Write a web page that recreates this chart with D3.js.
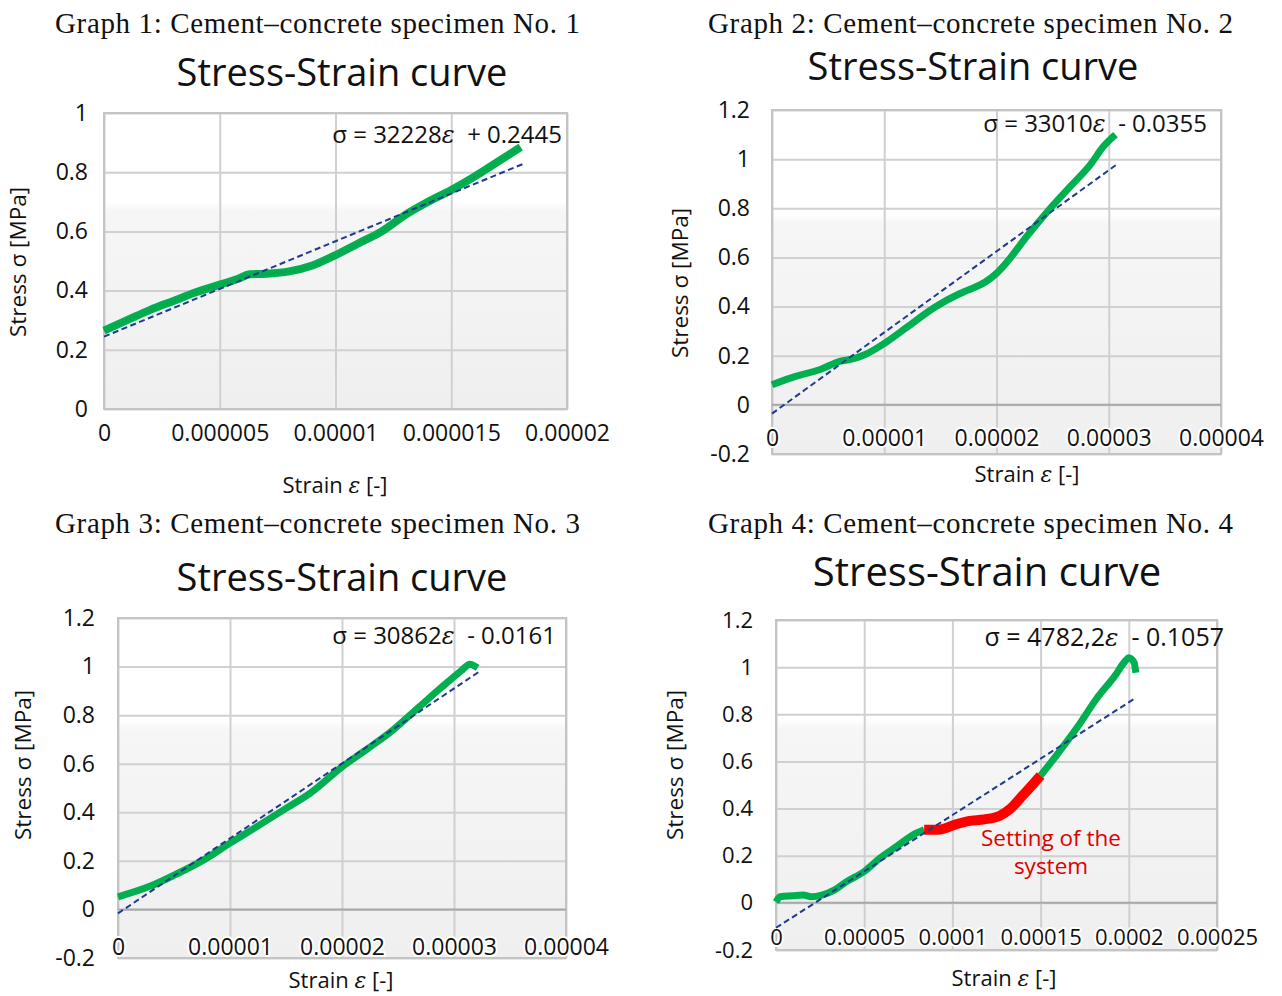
<!DOCTYPE html>
<html>
<head>
<meta charset="utf-8">
<script src="https://cdn.jsdelivr.net/npm/d3@7"></script>
<style>
  html, body { margin: 0; padding: 0; background: #ffffff; }
  svg { display: block; }
</style>
</head>
<body>
<svg id="chart" width="1282" height="996"></svg>
<script>
// ---------------- DATA ----------------
const headers = [
  "Graph 1: Cement\u2013concrete specimen No. 1",
  "Graph 2: Cement\u2013concrete specimen No. 2",
  "Graph 3: Cement\u2013concrete specimen No. 3",
  "Graph 4: Cement\u2013concrete specimen No. 4"
];
const chartTitle = "Stress-Strain curve";
const yAxisTitle = "Stress \u03c3 [MPa]";

// Panel 1
const p1Strain = [0, 1e-6, 2e-6, 3e-6, 4e-6, 5e-6, 5.8e-6, 6.3e-6, 7e-6, 8e-6, 9e-6, 1e-5, 1.1e-5, 1.2e-5, 1.3e-5, 1.4e-5, 1.5e-5, 1.6e-5, 1.7e-5, 1.8e-5];
const p1Stress = [0.265, 0.30, 0.335, 0.365, 0.395, 0.42, 0.44, 0.455, 0.457, 0.465, 0.485, 0.52, 0.56, 0.60, 0.655, 0.70, 0.74, 0.785, 0.835, 0.885];
// Panel 2
const p2Strain = [0, 2.1e-6, 4.3e-6, 6.1e-6, 7.0e-6, 8.3e-6, 1.01e-5, 1.2e-5, 1.45e-5, 1.67e-5, 1.74e-5, 1.9e-5, 2.0e-5, 2.1e-5, 2.26e-5, 2.47e-5, 2.66e-5, 2.84e-5, 2.95e-5, 3.06e-5];
const p2Stress = [0.082, 0.116, 0.144, 0.178, 0.185, 0.205, 0.253, 0.315, 0.397, 0.452, 0.466, 0.50, 0.535, 0.585, 0.68, 0.795, 0.89, 0.98, 1.05, 1.10];
// Panel 3
const p3Strain = [0, 2.9e-6, 5.1e-6, 7.7e-6, 1e-5, 1.24e-5, 1.5e-5, 1.72e-5, 2e-5, 2.23e-5, 2.45e-5, 2.67e-5, 2.89e-5, 3.07e-5, 3.14e-5, 3.21e-5];
const p3Stress = [0.052, 0.096, 0.143, 0.205, 0.273, 0.341, 0.416, 0.48, 0.587, 0.662, 0.737, 0.826, 0.915, 0.985, 1.01, 0.995];
// Panel 4 (three segments: initial green, red "setting", final green)
const p4StrainA = [0, 2.4e-6, 9.5e-6, 1.54e-5, 2.0e-5, 2.6e-5, 3.3e-5, 4.0e-5, 5e-5, 5.9e-5, 6.9e-5, 7.8e-5, 8.4e-5];
const p4StressA = [0.004, 0.026, 0.03, 0.033, 0.026, 0.033, 0.054, 0.09, 0.133, 0.19, 0.243, 0.29, 0.31];
const p4StrainB = [8.4e-5, 9.2e-5, 1.02e-4, 1.09e-4, 1.18e-4, 1.27e-4, 1.33e-4, 1.40e-4, 1.46e-4, 1.5e-4];
const p4StressB = [0.31, 0.31, 0.333, 0.347, 0.354, 0.37, 0.40, 0.457, 0.506, 0.54];
const p4StrainC = [1.5e-4, 1.59e-4, 1.71e-4, 1.82e-4, 1.92e-4, 1.98e-4, 2.0e-4, 2.03e-4, 2.04e-4];
const p4StressC = [0.54, 0.626, 0.747, 0.869, 0.962, 1.026, 1.04, 1.02, 0.976];

// Linear trend lines (slope, intercept, strain range)
const trendSlopes = [32228, 33010, 30862, 4782.2];
const trendIntercepts = [0.2445, -0.0355, -0.0161, -0.1057];
const trendEnds = [1.81e-5, 3.08e-5, 3.22e-5, 2.03e-4];
const equationLabels = [
  ["\u03c3 = 32228", " + 0.2445"],
  ["\u03c3 = 33010", " - 0.0355"],
  ["\u03c3 = 30862", " - 0.0161"],
  ["\u03c3 = 4782,2", " - 0.1057"]
];

// Axis ticks
const p1XTicks = [0, 0.000005, 0.00001, 0.000015, 0.00002];
const p1XLabels = ["0", "0.000005", "0.00001", "0.000015", "0.00002"];
const p1YTicks = [0, 0.2, 0.4, 0.6, 0.8, 1];
const p1YLabels = ["0", "0.2", "0.4", "0.6", "0.8", "1"];
const p23XTicks = [0, 0.00001, 0.00002, 0.00003, 0.00004];
const p23XLabels = ["0", "0.00001", "0.00002", "0.00003", "0.00004"];
const p4XTicks = [0, 0.00005, 0.0001, 0.00015, 0.0002, 0.00025];
const p4XLabels = ["0", "0.00005", "0.0001", "0.00015", "0.0002", "0.00025"];
const p234YTicks = [-0.2, 0, 0.2, 0.4, 0.6, 0.8, 1, 1.2];
const p234YLabels = ["-0.2", "0", "0.2", "0.4", "0.6", "0.8", "1", "1.2"];
const annotationLines = ["Setting of the", "system"];

// ---------------- DRAWING ----------------
const svg = d3.select("#chart");
const SANS = "'Open Sans', 'Noto Sans', sans-serif";
const SERIF = "'Liberation Serif', 'DejaVu Serif', serif";
const GREEN = "#00b050";
const RED = "#ff0000";
const NAVY = "#1f3b8f";

const defs = svg.append("defs");
const grad = defs.append("linearGradient").attr("id", "bg").attr("x1", 0).attr("x2", 0).attr("y1", 0).attr("y2", 1);
grad.append("stop").attr("offset", "0%").attr("stop-color", "#ffffff");
grad.append("stop").attr("offset", "30%").attr("stop-color", "#ffffff");
grad.append("stop").attr("offset", "33%").attr("stop-color", "#f6f6f6");
grad.append("stop").attr("offset", "100%").attr("stop-color", "#efefef");

const panels = [
  { header: headers[0], hx: 55, hy: 23, tx: 342, ty: 73, tfs: 38, fs: 23, efs: 24,
    xr: [104, 567], yr: [409, 113], xd: [0, 0.00002], yd: [0, 1],
    xTicks: p1XTicks, xLabels: p1XLabels, yTicks: p1YTicks, yLabels: p1YLabels,
    xLabelInside: false, series: [{x: p1Strain, y: p1Stress, c: GREEN, w: 8, dotted: true}],
    eqX: 562, eqY: 135, ytx: 18, yty: 262, xtx: 335, xty: 485, ylabX: 88, idx: 0 },
  { header: headers[1], hx: 708, hy: 23, tx: 973, ty: 67, tfs: 38, fs: 23, efs: 24,
    xr: [772, 1221], yr: [454, 110], xd: [0, 0.00004], yd: [-0.2, 1.2],
    xTicks: p23XTicks, xLabels: p23XLabels, yTicks: p234YTicks, yLabels: p234YLabels,
    xLabelInside: true, xLabelY: 438, series: [{x: p2Strain, y: p2Stress, c: GREEN, w: 7}],
    eqX: 1207, eqY: 124, ytx: 680, yty: 283, xtx: 1027, xty: 474, ylabX: 750, idx: 1 },
  { header: headers[2], hx: 55, hy: 523, tx: 342, ty: 578, tfs: 38, fs: 23, efs: 24,
    xr: [118, 566], yr: [958, 618], xd: [0, 0.00004], yd: [-0.2, 1.2],
    xTicks: p23XTicks, xLabels: p23XLabels, yTicks: p234YTicks, yLabels: p234YLabels,
    xLabelInside: true, xLabelY: 947, series: [{x: p3Strain, y: p3Stress, c: GREEN, w: 7}],
    eqX: 556, eqY: 636, ytx: 23, yty: 765, xtx: 341, xty: 980, ylabX: 95, idx: 2 },
  { header: headers[3], hx: 708, hy: 523, tx: 987, ty: 572, tfs: 40, fs: 22, efs: 25,
    xr: [776, 1217], yr: [950, 620], xd: [0, 0.00025], yd: [-0.2, 1.2],
    xTicks: p4XTicks, xLabels: p4XLabels, yTicks: p234YTicks, yLabels: p234YLabels,
    xLabelInside: true, xLabelY: 937,
    series: [{x: p4StrainA, y: p4StressA, c: GREEN, w: 7},
             {x: p4StrainB, y: p4StressB, c: RED, w: 10},
             {x: p4StrainC, y: p4StressC, c: GREEN, w: 7}],
    eqX: 1224, eqY: 637, ytx: 675, yty: 765, xtx: 1004, xty: 978, ylabX: 753, idx: 3,
    annotation: true }
];

panels.forEach(p => {
  const g = svg.append("g");
  const x = d3.scaleLinear().domain(p.xd).range(p.xr);
  const y = d3.scaleLinear().domain(p.yd).range(p.yr);
  const [x0, x1] = p.xr;
  const [yb, yt] = p.yr;

  // header (serif caption)
  g.append("text").attr("x", p.hx).attr("y", p.hy).attr("dy", "0.35em")
    .attr("font-family", SERIF).attr("font-size", 29).attr("fill", "#111")
    .attr("textLength", 525).attr("lengthAdjust", "spacing")
    .text(p.header);
  // chart title
  g.append("text").attr("x", p.tx).attr("y", p.ty).attr("dy", "0.35em")
    .attr("text-anchor", "middle").attr("font-family", SANS).attr("font-size", p.tfs)
    .attr("fill", "#111").text(chartTitle);

  // plot background
  g.append("rect").attr("x", x0).attr("y", yt).attr("width", x1 - x0).attr("height", yb - yt)
    .attr("fill", "url(#bg)");

  // gridlines
  g.append("g").attr("transform", `translate(0,${yb})`)
    .call(d3.axisBottom(x).tickValues(p.xTicks).tickSize(-(yb - yt)).tickFormat(""))
    .call(s => s.select(".domain").remove())
    .call(s => s.selectAll("line").attr("stroke", "#d0d0d0").attr("stroke-width", 2));
  g.append("g").attr("transform", `translate(${x0},0)`)
    .call(d3.axisLeft(y).tickValues(p.yTicks).tickSize(-(x1 - x0)).tickFormat(""))
    .call(s => s.select(".domain").remove())
    .call(s => s.selectAll("line").attr("stroke", "#d0d0d0").attr("stroke-width", 2));

  // frame
  g.append("rect").attr("x", x0).attr("y", yt).attr("width", x1 - x0).attr("height", yb - yt)
    .attr("fill", "none").attr("stroke", "#c4c4c4").attr("stroke-width", 2);
  // zero axis line
  if (p.yd[0] < 0) {
    g.append("line").attr("x1", x0).attr("x2", x1).attr("y1", y(0)).attr("y2", y(0))
      .attr("stroke", "#a8a8a8").attr("stroke-width", 2);
  }

  // y tick labels
  const yAx = g.append("g").attr("transform", `translate(${p.ylabX},0)`)
    .call(d3.axisLeft(y).tickValues(p.yTicks).tickSize(0).tickPadding(0)
      .tickFormat((d, i) => p.yLabels[i]));
  yAx.select(".domain").remove();
  yAx.selectAll("text").attr("font-family", SANS).attr("font-size", p.fs).attr("fill", "#111");

  // x tick labels
  const xBase = p.xLabelInside ? p.xLabelY : yb + 24;
  const xAx = g.append("g").attr("transform", `translate(0,${xBase})`)
    .call(d3.axisBottom(x).tickValues(p.xTicks).tickSize(0).tickPadding(0)
      .tickFormat((d, i) => p.xLabels[i]));
  xAx.select(".domain").remove();
  xAx.selectAll("text").attr("dy", "0.35em").attr("font-family", SANS).attr("font-size", p.fs)
    .attr("fill", "#111");
  if (p.xLabelInside) {
    xAx.selectAll("text").attr("stroke", "#ffffff").attr("stroke-width", 4)
      .attr("paint-order", "stroke").attr("stroke-linejoin", "round");
  }

  // series
  const line = d3.line().x(d => x(d[0])).y(d => y(d[1])).curve(d3.curveMonotoneX);
  p.series.forEach(s => {
    const pts = s.x.map((v, i) => [v, s.y[i]]);
    g.append("path").attr("d", line(pts)).attr("fill", "none")
      .attr("stroke", s.c).attr("stroke-width", s.w)
      .attr("stroke-linecap", "butt").attr("stroke-linejoin", "round");
    if (s.dotted) {
      g.append("path").attr("d", line(pts)).attr("fill", "none")
        .attr("stroke", "#18984a").attr("stroke-width", 2)
        .attr("stroke-dasharray", "1.5,2.5");
    }
  });

  // trend line
  const k = p.idx;
  const tPts = [0, trendEnds[k]].map(e => [e, trendSlopes[k] * e + trendIntercepts[k]]);
  g.append("path").attr("d", d3.line().x(d => x(d[0])).y(d => y(d[1]))(tPts))
    .attr("fill", "none").attr("stroke", NAVY).attr("stroke-width", 2)
    .attr("stroke-dasharray", "6,3.5");

  // equation
  const eq = g.append("text").attr("x", p.eqX).attr("y", p.eqY).attr("dy", "0.35em")
    .attr("text-anchor", "end").attr("font-family", SANS).attr("font-size", p.efs).attr("fill", "#111");
  eq.append("tspan").text(equationLabels[k][0]);
  eq.append("tspan").attr("font-style", "italic").attr("font-family", "'DejaVu Serif', serif").text("\u03b5");
  eq.append("tspan").text("\u00a0" + equationLabels[k][1]);

  // y axis title
  g.append("text").attr("transform", `translate(${p.ytx},${p.yty}) rotate(-90)`)
    .attr("dy", "0.35em").attr("text-anchor", "middle").attr("font-family", SANS)
    .attr("font-size", 22.5).attr("fill", "#111").text(yAxisTitle);

  // x axis title
  const xt = g.append("text").attr("x", p.xtx).attr("y", p.xty).attr("dy", "0.35em")
    .attr("text-anchor", "middle").attr("font-family", SANS).attr("font-size", 22).attr("fill", "#111");
  xt.append("tspan").text("Strain ");
  xt.append("tspan").attr("font-style", "italic").attr("font-family", "'DejaVu Serif', serif").text("\u03b5");
  xt.append("tspan").text(" [-]");

  if (p.annotation) {
    annotationLines.forEach((t, i) => {
      g.append("text").attr("x", 1051).attr("y", 838 + i * 28).attr("dy", "0.35em")
        .attr("text-anchor", "middle").attr("font-family", SANS).attr("font-size", 22.5)
        .attr("fill", "#e00000").text(t);
    });
  }
});
</script>
</body>
</html>
